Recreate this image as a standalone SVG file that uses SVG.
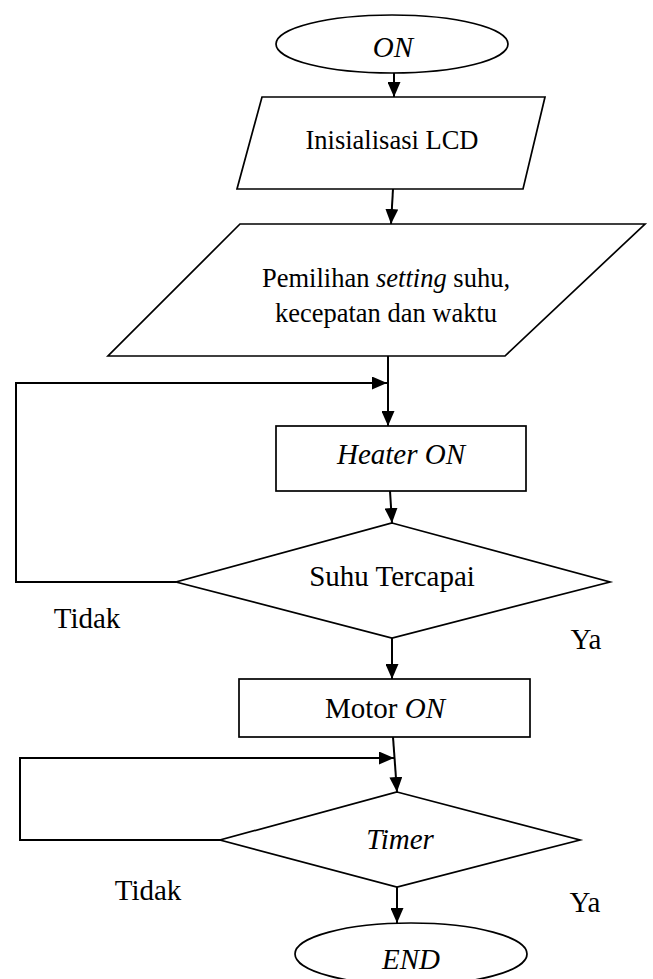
<svg xmlns="http://www.w3.org/2000/svg" width="653" height="979" viewBox="0 0 653 979">
<style>
.s{fill:#fff;stroke:#000;stroke-width:1.7}
.c{fill:none;stroke:#000;stroke-width:2}
.t{font-family:"Liberation Serif","Times New Roman",serif;font-size:29px;fill:#000;text-anchor:middle}
.m{font-size:26.5px}
.i{font-style:italic}
</style>
<defs>
<marker id="ah" viewBox="0 0 15 13" refX="15" refY="6.5" markerWidth="15" markerHeight="13" markerUnits="userSpaceOnUse" orient="auto">
<path d="M0,0 L15,6.5 L0,13 z" fill="#000"/>
</marker>
</defs>
<g id="connectors">
<line class="c" x1="394" y1="73" x2="394" y2="97" marker-end="url(#ah)"/>
<line class="c" x1="393" y1="189" x2="391" y2="224" marker-end="url(#ah)"/>
<line class="c" x1="388" y1="356" x2="388" y2="426" marker-end="url(#ah)"/>
<polyline class="c" points="176,582 16,582 16,383 387,383" marker-end="url(#ah)"/>
<line class="c" x1="390" y1="491" x2="392" y2="523" marker-end="url(#ah)"/>
<line class="c" x1="392" y1="638" x2="392" y2="679" marker-end="url(#ah)"/>
<line class="c" x1="393" y1="737" x2="397" y2="792" marker-end="url(#ah)"/>
<polyline class="c" points="220,840 20,840 20,758 394,758" marker-end="url(#ah)"/>
<line class="c" x1="397" y1="887" x2="397" y2="923" marker-end="url(#ah)"/>
</g>
<g id="n-on">
<ellipse class="s" cx="392" cy="44" rx="116" ry="29"/>
<text class="t i" x="393" y="57">ON</text>
</g>
<g id="n-lcd">
<polygon class="s" points="262,97 545,97 523,189 237,189"/>
<text class="t m" x="392" y="149">Inisialisasi LCD</text>
</g>
<g id="n-setting">
<polygon class="s" points="240,224 645,224 505,356 108,356"/>
<text class="t m" x="386" y="287">Pemilihan <tspan class="i">setting</tspan> suhu,</text>
<text class="t m" x="386" y="322">kecepatan dan waktu</text>
</g>
<g id="n-heater">
<rect class="s" x="276" y="426" width="250" height="65"/>
<text class="t i" x="401" y="464">Heater ON</text>
</g>
<g id="n-suhu">
<polygon class="s" points="392,523 610,582 392,638 176,582"/>
<text class="t" x="392" y="586">Suhu Tercapai</text>
</g>
<text class="t" x="87" y="628">Tidak</text>
<text class="t" x="586" y="649">Ya</text>
<g id="n-motor">
<rect class="s" x="239" y="679" width="291" height="58"/>
<text class="t" x="385" y="718">Motor <tspan class="i">ON</tspan></text>
</g>
<g id="n-timer">
<polygon class="s" points="397,792 580,840 397,887 220,840"/>
<text class="t i" x="400" y="849">Timer</text>
</g>
<text class="t" x="148" y="900">Tidak</text>
<text class="t" x="585" y="912">Ya</text>
<g id="n-end">
<ellipse class="s" cx="411" cy="954" rx="116" ry="31"/>
<text class="t i" x="411" y="969">END</text>
</g>
</svg>
